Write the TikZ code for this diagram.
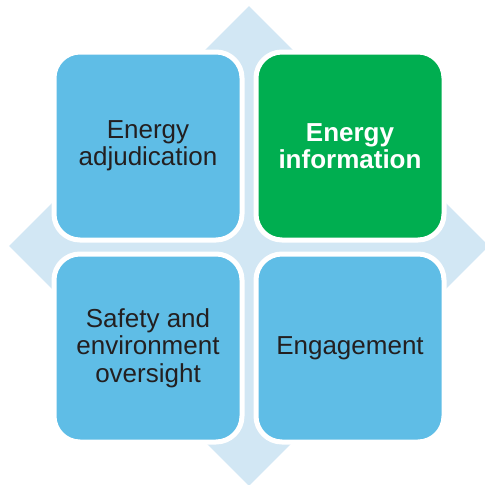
\documentclass[tikz,border=0pt]{standalone}
\usepackage{fontspec}
\setmainfont{Liberation Sans}
\usetikzlibrary{shapes.geometric, positioning}
\definecolor{CellFill}{RGB}{95,189,230}
\definecolor{KeyFill} {RGB}{0,174,80}
\definecolor{BackFill}{RGB}{210,231,244}
\definecolor{CellText}{RGB}{35,31,32}
\tikzset{
  % Rounded quadrant with a white rim
  cell/.style={
    rectangle, rounded corners=26pt,
    draw=white, fill=CellFill, line width=5pt,
    minimum width=188pt, minimum height=188pt,
    inner sep=0pt, outer sep=0pt,
    align=center, text=CellText,
    font=\fontsize{26}{27.5}\selectfont
  },
  % Highlighted quadrant
  keycell/.style={cell, fill=KeyFill, text=white,
    font=\fontsize{26}{27.5}\selectfont\bfseries},
  % Pale diamond behind the matrix
  backdrop/.style={diamond, fill=BackFill, inner sep=0pt,
    minimum width=480pt, minimum height=480pt}
}

\begin{document}
\begin{tikzpicture}[x=1pt, y=-1pt, node distance=14pt]
  \useasboundingbox (0,0) rectangle (485,485);

  %% -- Backdrop ---------------------------------------------------------------
  \node[backdrop] (back) at (249,246) {};

  %% -- Quadrants --------------------------------------------------------------
  \node[cell] (adj) at (148,146) {Energy\\adjudication};
  \node[keycell, right=of adj] (info) {Energy\\information};
  \node[cell, below=of adj] (safe) {Safety and\\environment\\oversight};
  \node[cell, below=of info] (eng) {Engagement};

\end{tikzpicture}
\end{document}
